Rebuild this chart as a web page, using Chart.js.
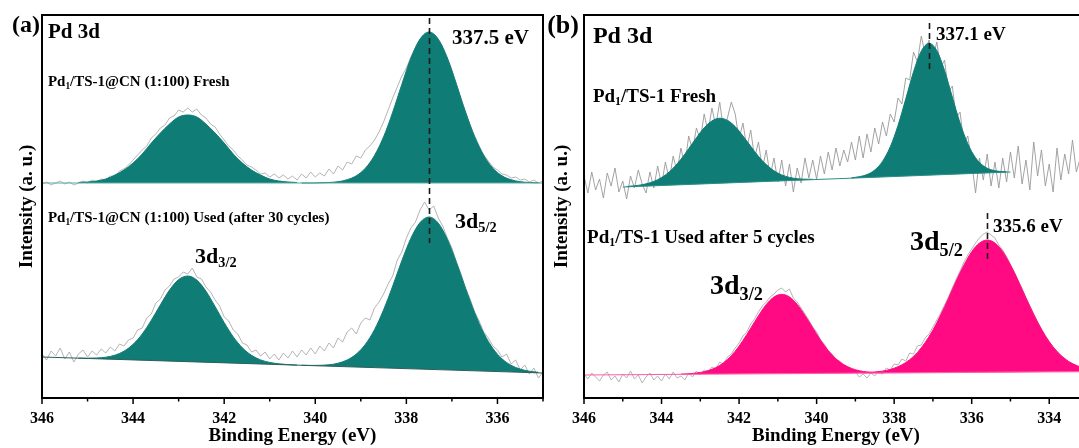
<!DOCTYPE html>
<html lang="en">
<head>
<meta charset="UTF-8">
<title>Pd 3d XPS</title>
<script src="https://cdn.jsdelivr.net/npm/chart.js"></script>
<style>
  html, body { margin: 0; padding: 0; background: #fff; overflow: hidden; }
  body { width: 1079px; height: 448px; position: relative; }
  canvas { position: absolute; top: 0; }
  #chartA { left: 0; }
  #chartB { left: 545px; }
</style>
</head>
<body>
<canvas id="chartA" width="548" height="448"></canvas>
<canvas id="chartB" width="548" height="448"></canvas>
<script>
// ---- panel (a): Pd1/TS-1@CN (1:100), raw spectra every 0.1 eV from 346.0 to 335.0
const aFreshRaw = [
  214, 216, 213, 215, 217, 214, 216, 213, 215, 217,
  215, 218, 216, 219, 218, 222, 221, 227, 229, 233,
  238, 243, 248, 252, 260, 264, 270, 273, 280, 282,
  288, 286, 290, 286, 289, 283, 280, 274, 271, 264,
  258, 252, 248, 242, 238, 233, 231, 228, 224, 225,
  221, 224, 220, 223, 219, 222, 218, 224, 220, 226,
  221, 225, 222, 229, 224, 232, 228, 236, 234, 242,
  240, 248, 252, 258, 266, 276, 288, 300, 311, 322,
  330, 341, 350, 358, 363, 366, 363, 358, 350, 340,
  328, 314, 299, 286, 273, 262, 252, 243, 237, 231,
  228, 224, 223, 220, 221, 218, 219, 216, 218, 215,
  217
];
const aUsedRaw = [
  44, 38, 47, 42, 50, 39, 46, 36, 44, 48,
  41, 47, 43, 49, 45, 51, 47, 54, 52, 58,
  60, 68, 70, 80, 84, 95, 99, 108, 112, 119,
  121, 126, 124, 130, 121, 119, 111, 106, 98, 92,
  81, 77, 68, 64, 55, 53, 46, 48, 42, 46,
  39, 44, 38, 45, 40, 47, 41, 48, 43, 50,
  44, 52, 47, 55, 50, 60, 56, 66, 70, 64,
  75, 80, 78, 90, 96, 104, 114, 122, 138, 146,
  160, 170, 176, 188, 196, 188, 192, 180, 172, 160,
  150, 136, 124, 110, 99, 86, 77, 66, 60, 52,
  48, 41, 44, 34, 38, 28, 33, 24, 30, 20,
  26
];
// fitted components every 0.2 eV (3d3/2 from 345.2, 3d5/2 from 340.3)
const aFreshFit32 = [215.5, 216, 217, 219, 223, 228, 235, 244, 255, 265, 274, 281, 283, 281, 274, 265, 255, 244, 235, 228, 223, 219, 217, 216, 215.5];
const aFreshFit52 = [215, 215, 215.2, 215.5, 216.3, 218.3, 222.2, 229.8, 242.5, 261.2, 285.8, 313.6, 340, 359, 366, 359, 340, 313.6, 285.8, 261.2, 242.5, 229.8, 222.2, 218.3, 216.3, 215.5, 215.2];
const aUsedFit32 = [39.9, 39.8, 40.0, 40.8, 42.8, 46.8, 53.7, 64.0, 77.7, 93.2, 107.9, 118.4, 122.0, 117.9, 106.8, 91.5, 75.4, 61.1, 50.2, 42.7, 38.1, 35.6, 34.2, 33.4, 32.9];
const aUsedFit52 = [32.8, 32.6, 32.7, 33.2, 34.8, 38.0, 43.9, 53.7, 68.3, 88.2, 111.9, 137.2, 159.8, 175.5, 181.0, 174.9, 158.7, 135.5, 109.6, 85.3, 64.8, 49.6, 39.2, 32.7, 28.9, 26.8, 25.7];
const aBaseEV = [346, 335];
const aFreshBase = [215, 215];
const aUsedBase = [41, 25];

// ---- panel (b): Pd1/TS-1, raw spectra every 0.1 eV from 346.0 to 333.2
const bFreshRaw = [
  222, 205, 226, 208, 219, 200, 225, 212, 230, 206,
  217, 199, 222, 210, 228, 214, 205, 226, 210, 232,
  213, 236, 218, 242, 226, 250, 232, 262, 248, 270,
  258, 284, 266, 290, 272, 296, 268, 280, 296, 284,
  259, 275, 250, 268, 240, 256, 229, 248, 222, 240,
  216, 238, 212, 234, 206, 230, 215, 240, 220, 238,
  219, 242, 224, 246, 228, 250, 232, 248, 236, 256,
  238, 262, 240, 264, 246, 270, 254, 276, 262, 284,
  276, 300, 294, 320, 318, 346, 336, 362, 344, 358,
  340, 356, 330, 338, 306, 312, 280, 286, 254, 262,
  236, 205, 240, 218, 244, 212, 236, 210, 240, 216,
  246, 220, 252, 214, 238, 208, 256, 222, 248, 212,
  234, 206, 250, 218, 244, 224, 258, 226,
  240
];
const bUsedRaw = [
  24, 19, 25, 21, 17, 23, 26, 18, 22, 16,
  24, 20, 27, 19, 23, 15, 21, 25, 18, 22,
  17, 24, 19, 26, 20, 22, 18, 25, 21, 27,
  23, 28, 26, 31, 29, 36, 34, 41, 44, 50,
  55, 62, 66, 74, 79, 86, 92, 96, 101, 104,
  108, 110, 106, 109, 100, 96, 90, 84, 78, 71,
  66, 58, 54, 47, 44, 38, 37, 31, 30, 25,
  26, 21, 24, 20, 25, 22, 27, 24, 30, 28,
  34, 33, 39, 37, 45, 44, 52, 53, 60, 64,
  71, 78, 85, 93, 101, 110, 119, 127, 136, 143,
  149, 155, 160, 164, 166, 163, 160, 153, 148, 141,
  133, 126, 117, 109, 100, 92, 84, 76, 69, 62,
  56, 51, 47, 42, 40, 35, 34, 31,
  30
];
// fitted components every 0.2 eV
const bFreshFit32 = [211.5, 212.2, 213.3, 215.2, 218.3, 223, 229.8, 238.7, 249.3, 260.2, 270.2, 277.1, 279.8, 277.7, 271.4, 262, 251.7, 241.7, 233.4, 227.2, 223.1, 220.6, 219.3, 218.8, 218.7];
const bFreshFit52 = [220.2, 221.3, 223.4, 228, 236.6, 251.2, 272.6, 299.2, 326.2, 346.8, 354.7, 347.4, 327.4, 301, 275, 254.2, 240.2, 232.2, 228.2, 226.7, 226.2];
const bUsedFit32 = [23.9, 24.2, 25.0, 26.3, 28.7, 32.6, 38.5, 46.8, 57.5, 69.8, 82.3, 93.4, 101, 103.7, 101.1, 93.6, 82.6, 70.2, 58, 47.4, 39.2, 33.4, 29.6, 27.3, 26.1, 25.5, 25.2];
const bUsedFit52 = [25.3, 25.6, 26.4, 27.6, 29.8, 33.2, 38.3, 45.6, 55.5, 67.9, 83, 99.6, 116.9, 132.9, 146.3, 154.9, 158, 155, 146.5, 133.2, 117.3, 100.2, 83.6, 68.7, 56.3, 46.6, 39.3, 34.4, 31];
const bFreshBaseEV = [345, 335];
const bFreshBase = [211, 226];
const bUsedBaseEV = [346, 333.2];
const bUsedBase = [23, 26.3];

// peak positions marked with dashed lines
const aPeaks = [337.5];
const bPeaks = [337.1, 335.6];

const SERIF = "'Liberation Serif', 'Times New Roman', serif";
const TEAL = '#0f7c76';
const PINK = '#ff0a82';

// energy channels, high to low binding energy
function channels(from, count, step) {
  const out = [];
  for (let i = 0; i < count; i++) out.push(Math.round((from - i * step) * 100) / 100);
  return out;
}
function pts(xs, ys) {
  return ys.map((v, i) => ({ x: xs[i], y: v }));
}
function series(from, step, ys) {
  return pts(channels(from, ys.length, step), ys);
}

const decor = {
  id: 'decor',
  afterDatasetsDraw(chart, args, opts) {
    const { ctx, scales: { x, y } } = chart;
    ctx.save();
    ctx.strokeStyle = '#1a1a1a';
    ctx.lineWidth = 1.6;
    ctx.setLineDash([6, 4]);
    (opts.markers || []).forEach(m => {
      const px = Math.round(x.getPixelForValue(m.eV)) + 0.5;
      ctx.beginPath();
      ctx.moveTo(px, y.getPixelForValue(m.to));
      ctx.lineTo(px, y.getPixelForValue(m.from));
      ctx.stroke();
    });
    ctx.restore();
  },
  afterDraw(chart, args, opts) {
    const { ctx, chartArea: a, scales: { x, y } } = chart;
    ctx.save();
    // frame
    ctx.strokeStyle = '#000';
    ctx.lineWidth = 2;
    ctx.strokeRect(a.left, a.top, a.right - a.left, a.bottom - a.top);
    // outward ticks, long on even eV
    ctx.lineWidth = 1.5;
    for (let v = Math.ceil(x.min); v <= x.max; v++) {
      const px = x.getPixelForValue(v);
      const len = v % 2 === 0 ? 6 : 3.5;
      ctx.beginPath();
      ctx.moveTo(px, a.bottom);
      ctx.lineTo(px, a.bottom + len);
      ctx.stroke();
    }
    // text labels, parts may be subscripts
    ctx.fillStyle = '#000';
    ctx.textBaseline = 'middle';
    (opts.labels || []).forEach(l => {
      let px = x.getPixelForValue(l.at[0]);
      const py = y.getPixelForValue(l.at[1]);
      l.parts.forEach(([t, sub]) => {
        const size = sub ? l.size * (l.sub || 0.62) : l.size;
        ctx.font = 'bold ' + size + 'px ' + SERIF;
        ctx.fillText(t, px, sub ? py + l.size * 0.28 : py);
        px += ctx.measureText(t).width;
      });
    });
    ctx.restore();
  }
};

function makePanel(id, p) {
  const font = (size) => ({ family: SERIF, size: size, weight: 'bold' });
  const datasets = [
    { data: p.raw[0], borderColor: p.rawColor, borderWidth: 0.9, order: 3 },
    { data: p.raw[1], borderColor: p.rawColor2 || p.rawColor, borderWidth: 0.9, order: 3 },
    { data: p.base[0], borderColor: p.baseColor[0], borderWidth: 1.2, order: 1 },
    { data: p.base[1], borderColor: p.baseColor[1], borderWidth: 1.2, order: 1 },
    { data: p.fits[0], fill: 2, backgroundColor: p.fillColor[0], borderColor: p.fillColor[0], borderWidth: 1, cubicInterpolationMode: 'monotone', order: 2 },
    { data: p.fits[1], fill: 2, backgroundColor: p.fillColor[0], borderColor: p.fillColor[0], borderWidth: 1, cubicInterpolationMode: 'monotone', order: 2 },
    { data: p.fits[2], fill: 3, backgroundColor: p.fillColor[1], borderColor: p.fillColor[1], borderWidth: 1, cubicInterpolationMode: 'monotone', order: 2 },
    { data: p.fits[3], fill: 3, backgroundColor: p.fillColor[1], borderColor: p.fillColor[1], borderWidth: 1, cubicInterpolationMode: 'monotone', order: 2 }
  ];
  datasets.forEach(d => { d.pointRadius = 0; if (d.fill === undefined) d.fill = false; });

  return new Chart(document.getElementById(id), {
    type: 'line',
    data: { datasets: datasets },
    options: {
      responsive: false,
      animation: false,
      devicePixelRatio: 1,
      events: [],
      layout: { padding: { top: 15, right: 5, bottom: 0, left: 0 } },
      scales: {
        x: {
          type: 'linear',
          reverse: true,
          min: p.min,
          max: 346,
          afterBuildTicks: s => { s.ticks = p.ticks.map(v => ({ value: v })); },
          ticks: { font: font(16), color: '#000', padding: 11, maxRotation: 0, autoSkip: false, callback: v => String(v) },
          grid: { display: false, drawTicks: false },
          border: { display: false },
          title: { display: true, text: 'Binding Energy (eV)', color: '#000', font: font(19), padding: { top: 0, bottom: 1 } },
          afterFit: s => { s.height = 50; }
        },
        y: {
          min: 0,
          max: 383,
          ticks: { display: false },
          grid: { display: false, drawTicks: false },
          border: { display: false },
          title: { display: true, text: 'Intensity (a. u.)', color: '#000', font: font(19), padding: { top: p.yTitlePad, bottom: 0 } },
          afterFit: s => { s.width = p.yWidth; }
        }
      },
      plugins: {
        legend: { display: false },
        tooltip: { enabled: false },
        decor: { markers: p.markers, labels: p.labels }
      }
    },
    plugins: [decor]
  });
}

makePanel('chartA', {
  min: 335,
  ticks: [346, 344, 342, 340, 338, 336],
  yWidth: 42,
  yTitlePad: 16,
  raw: [series(346, 0.1, aFreshRaw), series(346, 0.1, aUsedRaw)],
  rawColor: '#adadad',
  base: [pts(aBaseEV, aFreshBase), pts(aBaseEV, aUsedBase)],
  baseColor: ['#5aa9a3', '#2f5f5b'],
  fits: [series(345.2, 0.2, aFreshFit32), series(340.3, 0.2, aFreshFit52),
         series(345.2, 0.2, aUsedFit32), series(340.3, 0.2, aUsedFit52)],
  fillColor: [TEAL, TEAL],
  markers: [{ eV: aPeaks[0], from: 155, to: 380 }],
  labels: [
    { at: [346.66, 372], size: 24, parts: [['(a)']] },
    { at: [345.87, 365], size: 21, parts: [['Pd 3d']] },
    { at: [345.87, 316], size: 15, parts: [['Pd'], ['1', 1], ['/TS-1@CN (1:100) Fresh']] },
    { at: [345.87, 180], size: 15, parts: [['Pd'], ['1', 1], ['/TS-1@CN (1:100) Used (after 30 cycles)']] },
    { at: [337.0, 359], size: 21, parts: [[aPeaks[0].toFixed(1) + ' eV']] },
    { at: [336.93, 176], size: 22, sub: 0.65, parts: [['3d'], ['5/2', 1]] },
    { at: [342.64, 141], size: 22, sub: 0.65, parts: [['3d'], ['3/2', 1]] }
  ]
});

makePanel('chartB', {
  min: 333,
  ticks: [346, 344, 342, 340, 338, 336, 334],
  yWidth: 39,
  yTitlePad: 6,
  raw: [series(346, 0.1, bFreshRaw), series(346, 0.1, bUsedRaw)],
  rawColor: '#999999',
  rawColor2: '#adadad',
  base: [pts(bFreshBaseEV, bFreshBase), pts(bUsedBaseEV, bUsedBase)],
  baseColor: ['#2c8f88', '#ff5fa8'],
  fits: [series(344.9, 0.2, bFreshFit32), series(339.1, 0.2, bFreshFit52),
         series(343.5, 0.2, bUsedFit32), series(338.8, 0.2, bUsedFit52)],
  fillColor: [TEAL, PINK],
  markers: [{ eV: bPeaks[0], from: 328, to: 375 }, { eV: bPeaks[1], from: 136, to: 185 }],
  labels: [
    { at: [346.95, 372], size: 26, parts: [['(b)']] },
    { at: [345.77, 361], size: 24, parts: [['Pd 3d']] },
    { at: [345.77, 301], size: 19, parts: [['Pd'], ['1', 1], ['/TS-1 Fresh']] },
    { at: [345.92, 160], size: 19, parts: [['Pd'], ['1', 1], ['/TS-1 Used after 5 cycles']] },
    { at: [336.92, 363], size: 19, parts: [[bPeaks[0].toFixed(1) + ' eV']] },
    { at: [335.45, 171], size: 19, parts: [[bPeaks[1].toFixed(1) + ' eV']] },
    { at: [342.75, 111], size: 28, sub: 0.65, parts: [['3d'], ['3/2', 1]] },
    { at: [337.59, 155], size: 28, sub: 0.65, parts: [['3d'], ['5/2', 1]] }
  ]
});
</script>
</body>
</html>
